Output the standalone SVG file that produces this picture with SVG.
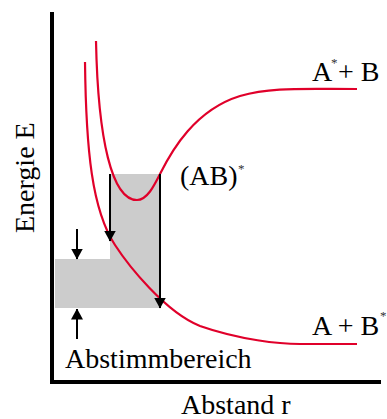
<svg xmlns="http://www.w3.org/2000/svg" width="387" height="419" viewBox="0 0 387 419">
<style>
.t{font-family:"Liberation Serif","Times New Roman",serif;font-size:28px;fill:#000}
.s{font-family:"Liberation Serif","Times New Roman",serif;font-size:13px;fill:#333}
.curve{fill:none;stroke:#e0002a;stroke-width:2.2}
.arr{stroke:#000;stroke-width:2;fill:none}
.axis{stroke:#000;stroke-width:4;fill:none}
</style>
<defs>
<marker id="ah" markerUnits="userSpaceOnUse" markerWidth="11" markerHeight="12" viewBox="0 0 11 12" refX="10.5" refY="6" orient="auto">
<path d="M0,0 L11,6 L0,12 Z" fill="#000"/>
</marker>
</defs>
<g id="region">
<path d="M110,174 H160 V308 H55 V259 H110 Z" fill="#cccccc"/>
</g>
<g id="axes">
<path class="axis" d="M52,12 V382 H381"/>
</g>
<g id="curves">
<path id="curve-lower" class="curve" d="M85,62 C86,150 92,210 115,245 C128,265 165,312 200,326 C240,340 280,344 300,344 L357,344"/>
<path id="curve-upper" class="curve" d="M96,41 C98,140 112,200 137,200 C147,200 154,186 160,174 C172,150 195,110 240,96 C270,87 300,89 357,89"/>
</g>
<g id="connectors">
<path class="arr" d="M110,174 V241" marker-end="url(#ah)"/>
<path class="arr" d="M160,174 V308" marker-end="url(#ah)"/>
<path class="arr" d="M77,229 V259" marker-end="url(#ah)"/>
<path class="arr" d="M77,339 V309" marker-end="url(#ah)"/>
</g>
<g id="label-AstarB">
<text class="t" x="312" y="81">A</text>
<text class="s" x="331" y="67">*</text>
<text class="t" x="338" y="81">+ B</text>
</g>
<g id="label-ABstar">
<text class="t" x="180" y="185">(AB)</text>
<text class="s" x="238" y="173">*</text>
</g>
<g id="label-ABstar2">
<text class="t" x="312" y="335">A + B</text>
<text class="s" x="380" y="320">*</text>
</g>
<g id="label-abstimm">
<text class="t" x="65" y="368">Abstimmbereich</text>
</g>
<g id="label-axes">
<text class="t" x="181" y="414">Abstand r</text>
<text class="t" transform="translate(34,233) rotate(-90)">Energie E</text>
</g>
</svg>
